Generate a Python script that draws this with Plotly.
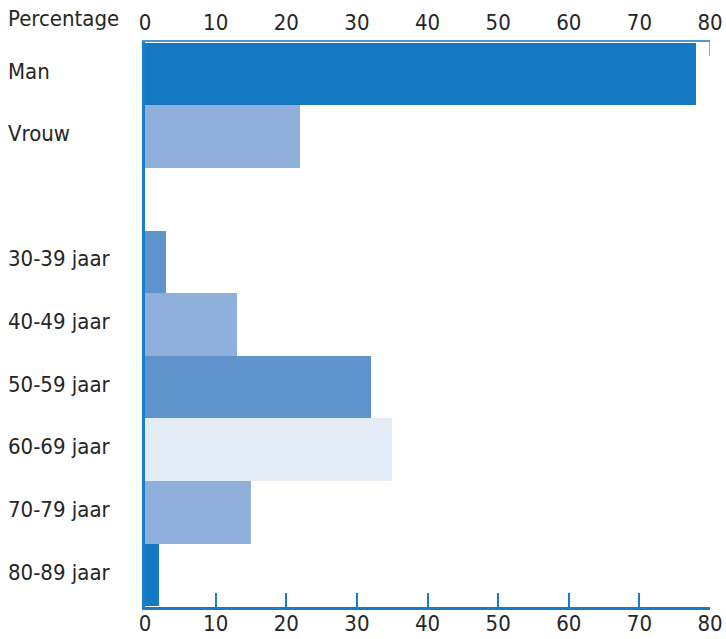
import plotly.graph_objects as go

categories = ["Man", "Vrouw", " ", "30-39 jaar", "40-49 jaar", "50-59 jaar",
              "60-69 jaar", "70-79 jaar", "80-89 jaar"]
values = [78, 22, None, 3, 13, 32, 35, 15, 2]
colors = ["#1479c1", "#8fb0db", "#ffffff", "#5e93cc", "#8fb0db", "#5e93cc",
          "#e3ebf5", "#8fb0db", "#1479c1"]
tick_vals = [0, 10, 20, 30, 40, 50, 60, 70, 80]
axis_title = "Percentage"

FONT = "DejaVu Sans Condensed, DejaVu Sans, sans-serif"
TXT = "#262626"
BLUE = "#1a7cc4"
LIGHTBLUE = "#4f97d2"

W, H = 726, 639
L, R, T, B = 145, 16, 42, 32
pw = W - L - R
ph = H - T - B

fig = go.Figure()
fig.add_trace(go.Bar(
    x=values, y=categories, orientation="h",
    marker=dict(color=colors, line=dict(width=0)),
    hoverinfo="x+y", showlegend=False,
))
# invisible companion trace so that the top axis is drawn
fig.add_trace(go.Scatter(
    x=values, y=categories, xaxis="x2", mode="markers",
    marker=dict(opacity=0), hoverinfo="skip", showlegend=False,
))

for c in categories:
    if c.strip():
        fig.add_annotation(
            x=-(L - 6) / pw, xref="paper", xanchor="left",
            y=c, yref="y", yanchor="middle", yshift=3,
            text=c, showarrow=False,
            font=dict(family=FONT, size=22, color=TXT),
        )

fig.add_annotation(
    x=-(L - 6) / pw, xref="paper", xanchor="left",
    y=1 + 24 / ph, yref="paper", yanchor="middle",
    text=axis_title, showarrow=False,
    font=dict(family=FONT, size=22, color=TXT),
)

fig.add_shape(type="line", xref="x", yref="paper",
              x0=tick_vals[-1], x1=tick_vals[-1], y0=1, y1=1 - 14 / ph,
              line=dict(color=LIGHTBLUE, width=1.5))

fig.update_layout(
    width=W, height=H,
    margin=dict(l=L, r=R, t=T, b=B, pad=0, autoexpand=False),
    paper_bgcolor="white", plot_bgcolor="white",
    bargap=0,
    font=dict(family=FONT, size=22, color=TXT),
    xaxis=dict(
        range=[0, 80], tickvals=tick_vals, showgrid=False, zeroline=False,
        showline=True, linecolor=BLUE, linewidth=2.5, automargin=False,
        ticks="inside", ticklen=14, tickwidth=2, tickcolor=BLUE,
        ticklabelstandoff=-5,
        tickfont=dict(family=FONT, size=22, color=TXT),
    ),
    xaxis2=dict(
        range=[0, 80], tickvals=tick_vals, overlaying="x", side="top",
        showgrid=False, zeroline=False, automargin=False,
        showline=True, linecolor=LIGHTBLUE, linewidth=1.5, ticks="",
        ticklabelstandoff=1,
        tickfont=dict(family=FONT, size=22, color=TXT),
    ),
    yaxis=dict(
        categoryorder="array", categoryarray=categories,
        autorange="reversed", showticklabels=False, showgrid=False,
        zeroline=False, showline=True, linecolor=BLUE, linewidth=2.5,
        ticks="", automargin=False,
    ),
)

fig.write_html(
    "out.html",
    config={"displayModeBar": False},
    post_script="document.body.style.margin='0';document.body.style.overflow='hidden';",
)
